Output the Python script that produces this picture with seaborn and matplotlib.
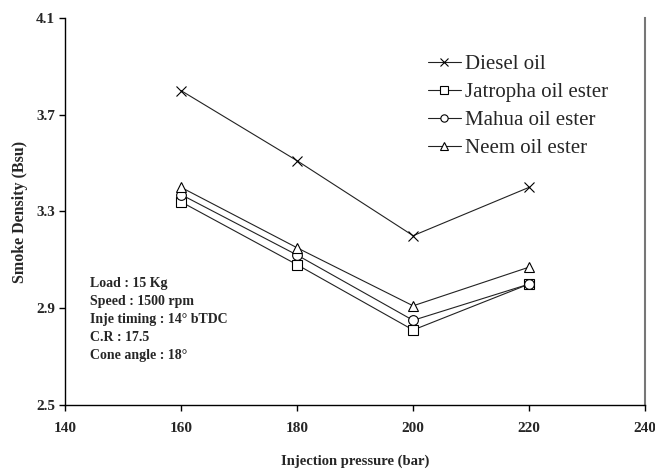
import matplotlib
matplotlib.use("Agg")
import matplotlib.pyplot as plt
import seaborn as sns
import pandas as pd

pressure = [160, 180, 200, 220]
diesel = [3.80, 3.51, 3.20, 3.40]
jatropha = [3.34, 3.08, 2.81, 3.00]
mahua = [3.37, 3.12, 2.85, 3.00]
neem = [3.40, 3.15, 2.91, 3.07]
series_names = ["Diesel oil", "Jatropha oil ester", "Mahua oil ester", "Neem oil ester"]
x_ticks = [140, 160, 180, 200, 220, 240]
y_ticks = [2.5, 2.9, 3.3, 3.7, 4.1]
notes = ["Load : 15 Kg", "Speed : 1500 rpm", "Inje timing : 14\u00b0 bTDC", "C.R : 17.5", "Cone angle : 18\u00b0"]

sns.set_style("white")
plt.rcParams["font.family"] = ["Liberation Serif", "DejaVu Serif"]

rows = []
for name, vals in zip(series_names, [diesel, jatropha, mahua, neem]):
    for p, v in zip(pressure, vals):
        rows.append({"pressure": p, "smoke": v, "fuel": name})
df = pd.DataFrame(rows)

fig = plt.figure(figsize=(6.55, 4.69), dpi=100)
ax = fig.add_axes([0.0992, 0.1365, 0.8858, 0.8251])

markers = {"Diesel oil": "x", "Jatropha oil ester": "s", "Mahua oil ester": "o", "Neem oil ester": "^"}
sizes = {"Diesel oil": 7, "Jatropha oil ester": 7, "Mahua oil ester": 7, "Neem oil ester": 7}
for name in series_names:
    sub = df[df.fuel == name]
    sns.lineplot(data=sub, x="pressure", y="smoke", ax=ax, color="#222222", lw=0.8,
                 marker=markers[name], markersize=sizes[name], markerfacecolor="white",
                 markeredgecolor="black", markeredgewidth=0.8, label=name)

ax.set_xlim(140, 240)
ax.set_ylim(2.5, 4.1)
ax.set_xticks(x_ticks)
ax.set_yticks(y_ticks)
ax.set_xticklabels([str(t) for t in x_ticks], fontweight="bold", fontsize=11)
ax.set_yticklabels([f"{t:.1f}" for t in y_ticks], fontweight="bold", fontsize=11)
ax.tick_params(axis="both", direction="out", length=4, width=1, color="black", pad=3, bottom=True, left=True)
ax.tick_params(axis="x", pad=8)

for s in ["left", "bottom"]:
    ax.spines[s].set_color("black")
    ax.spines[s].set_linewidth(1.0)
ax.spines["top"].set_visible(False)
ax.spines["right"].set_color("#777777")
ax.spines["right"].set_linewidth(1.5)

ax.set_xlabel("Injection pressure (bar)", fontweight="bold", fontsize=10.5, labelpad=14)
ax.set_ylabel("Smoke Density (Bsu)", fontweight="bold", fontsize=11.5, labelpad=6)

leg = ax.legend(loc="upper left", bbox_to_anchor=(0.625, 0.905), frameon=False, fontsize=15,
                handlelength=1.6, handletextpad=0.2, labelspacing=0.4, borderaxespad=0,
                borderpad=0, markerscale=0.75)
for line in leg.get_lines():
    line.set_linewidth(0.8)

for i, t in enumerate(notes):
    ax.text(0.043, 0.315 - i * 0.047, t, transform=ax.transAxes, fontsize=10,
            fontweight="bold", va="center", ha="left")

fig.savefig("out.png", dpi=100)
